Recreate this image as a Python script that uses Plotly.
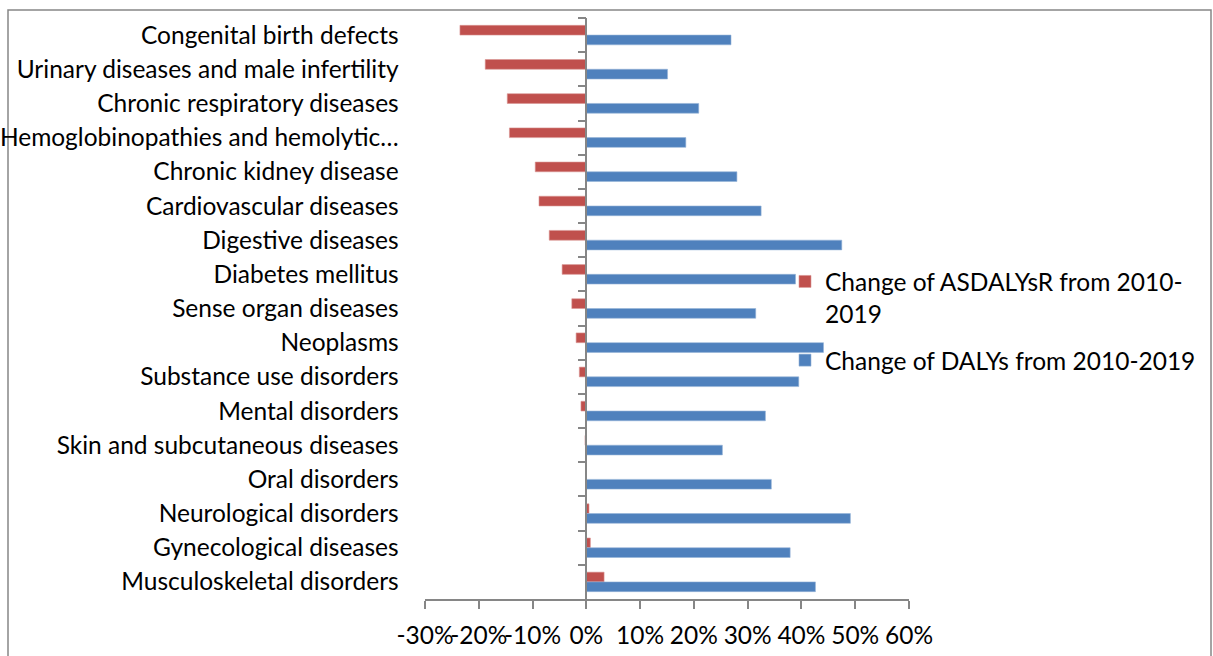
import plotly.graph_objects as go

# Disease groups, listed top to bottom
categories = [
    "Congenital birth defects",
    "Urinary diseases and male infertility",
    "Chronic respiratory diseases",
    "Hemoglobinopathies and hemolytic…",
    "Chronic kidney disease",
    "Cardiovascular diseases",
    "Digestive diseases",
    "Diabetes mellitus",
    "Sense organ diseases",
    "Neoplasms",
    "Substance use disorders",
    "Mental disorders",
    "Skin and subcutaneous diseases",
    "Oral disorders",
    "Neurological disorders",
    "Gynecological diseases",
    "Musculoskeletal disorders",
]

# Change of age-standardised DALY rate, 2010-2019 (fraction)
asdalysr_change = [
    -0.235, -0.188, -0.147, -0.143, -0.095, -0.088, -0.069, -0.045, -0.027,
    -0.019, -0.013, -0.010, -0.0025, -0.001, 0.005, 0.0075, 0.033,
]

# Change of DALY counts, 2010-2019 (fraction)
dalys_change = [
    0.269, 0.151, 0.209, 0.185, 0.280, 0.325, 0.475, 0.389, 0.315,
    0.441, 0.395, 0.333, 0.253, 0.344, 0.491, 0.379, 0.426,
]

x_ticks = [-0.3, -0.2, -0.1, 0.0, 0.1, 0.2, 0.3, 0.4, 0.5, 0.6]
x_tick_labels = ["-30%", "-20%", "-10%", "0%", "10%", "20%", "30%", "40%", "50%", "60%"]

W, H = 1213, 656
L, R, T, B = 425, 304, 18, 57
FONT = "Lato"
FONT_SIZE = 24.5
AXIS_GREY = "#868686"

fig = go.Figure()
fig.add_trace(go.Bar(
    name="Change of ASDALYsR from 2010-<br>2019", legendgroup="a",
    y=categories, x=asdalysr_change, orientation="h",
    marker=dict(color="#C0504D", line=dict(color="#D99694", width=0.6)),
))
fig.add_trace(go.Bar(
    name="Change of DALYs from 2010-2019", legendgroup="b",
    y=categories, x=dalys_change, orientation="h",
    marker=dict(color="#4F81BD", line=dict(color="#95B3D7", width=0.6)),
))

plot_w = W - L - R
zero_pos = (0 - x_ticks[0]) / (x_ticks[-1] - x_ticks[0])

fig.update_layout(
    width=W, height=H,
    margin=dict(l=L, r=R, t=T, b=B, autoexpand=False),
    paper_bgcolor="white", plot_bgcolor="white",
    barmode="group", bargap=0.43, bargroupgap=0,
    font=dict(family=FONT, size=FONT_SIZE, color="black"),
    showlegend=True,
    legend=dict(
        xref="container", yref="container",
        x=785 / W, y=1 - 259 / H, xanchor="left", yanchor="top",
        valign="top", font=dict(family=FONT, size=FONT_SIZE, color="black"),
        bgcolor="rgba(0,0,0,0)", tracegroupgap=12, itemwidth=30,
    ),
    xaxis=dict(
        range=[x_ticks[0], x_ticks[-1]], tickvals=x_ticks, ticktext=x_tick_labels,
        tickangle=0,
        showgrid=False, zeroline=False,
        showline=True, linecolor=AXIS_GREY, linewidth=1.5,
        ticks="outside", ticklen=8, tickcolor=AXIS_GREY, tickwidth=1.5,
        ticklabelstandoff=6, automargin=False,
    ),
    yaxis=dict(
        type="category", categoryorder="array", categoryarray=categories,
        autorange="reversed",
        anchor="free", position=zero_pos,
        showgrid=False, zeroline=False,
        showline=True, linecolor=AXIS_GREY, linewidth=1.5,
        ticks="outside", ticklen=8, tickcolor=AXIS_GREY, tickwidth=1.5,
        tickson="boundaries",
        ticklabelstandoff=182, automargin=False,
    ),
)

# Chart frame
fig.add_shape(
    type="rect", xref="paper", yref="paper",
    x0=(8 - L) / plot_w, x1=(1211 - L) / plot_w,
    y0=-0.2, y1=1 + (T - 10) / (H - T - B),
    line=dict(color=AXIS_GREY, width=1.5), fillcolor="rgba(0,0,0,0)",
    layer="below",
)

fig.write_html("out.html")
